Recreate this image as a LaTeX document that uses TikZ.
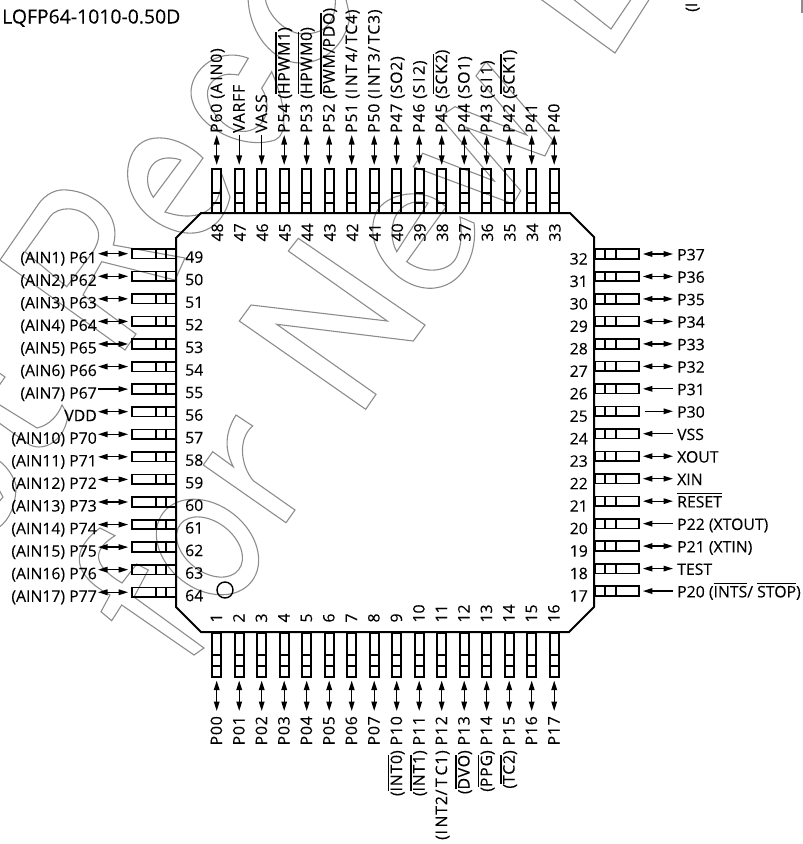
\documentclass[tikz,border=0pt]{standalone}
\usepackage{fontspec}
\setmainfont[FakeBold=0.2]{Open Sans}
\newfontfamily\vertfont[LetterSpace=5,FakeBold=0.2]{Open Sans}
\usetikzlibrary{arrows.meta}
\newcommand{\ovl}[1]{\leavevmode\setbox0\hbox{#1}\rlap{\raisebox{13pt}{\rule{\wd0}{1.4pt}}}\box0}
\begin{document}
\begin{tikzpicture}
[x=1pt,y=-1pt,
  >={Triangle[length=9.5pt,width=5.6pt]},
  wmark/.style={draw=black!45,line width=1.1pt,line join=miter},%
  bodyLine/.style={draw,line width=2pt,line join=miter},%
  crossLine/.style={draw,line width=1.3pt},%
  pinH/.style={shape=rectangle,draw,line width=1.7pt,inner sep=0pt,minimum width=44pt,minimum height=9.6pt},%
  pinV/.style={shape=rectangle,draw,line width=1.7pt,inner sep=0pt,minimum width=9pt,minimum height=44pt},%
  textH/.style={inner sep=0pt,font=\fontsize{15.8}{18}\selectfont},%
  textV/.style={inner sep=0pt,rotate=90,font=\fontsize{15.8}{18}\selectfont\vertfont},%
  numV/.style={inner sep=0pt,rotate=90,font=\fontsize{15.8}{18}\selectfont},%
  pinBoth/.style={<->,line width=1.3pt,shorten <=3pt},%
  pinIn/.style={<-,line width=1.3pt,shorten <=3pt},%
  pinOut/.style={->,line width=1.3pt,shorten <=5pt}]
\useasboundingbox (0,0) rectangle (803,844);
%% watermark letters
\draw[wmark] (0,260) -- (36.7,206.7) .. controls (46,192) and (58,189) .. (67,190)
  .. controls (95,192) and (122,215) .. (113.3,245) -- (185,258) -- (175,280) -- (101.7,261.7)
  -- (83,295) -- (136,334) -- (125,350) -- cycle;
\draw[wmark] (25,251.7) -- (50,216.7) .. controls (58,206) and (78,206) .. (90,218)
  .. controls (102,230) and (100,240) .. (93,251.7) -- (66.7,286.7) -- cycle;
\draw[wmark] (203,158) .. controls (180,135) and (145,130) .. (133,152)
  .. controls (118,180) and (135,217) .. (173,230) .. controls (195,238) and (222,232) .. (230,197)
  -- (221,172) .. controls (224,205) and (205,225) .. (165,212) -- cycle;
\draw[wmark] (181,160) -- (153.3,197.3) .. controls (140,178) and (150,150) .. (181,160);
\draw[wmark] (248.3,58.3) .. controls (215,45) and (185,75) .. (192,100)
  .. controls (200,130) and (245,150) .. (275,140) .. controls (287,135) and (288,110) .. (271.7,71.7)
  -- (261.7,88.3) .. controls (275,110) and (262,135) .. (238,131)
  .. controls (215,125) and (195,90) .. (217,78) .. controls (225,73) and (232,74) .. (238.3,75) -- cycle;
\draw[wmark] (248,-5) .. controls (248,35) and (275,63) .. (300,63) .. controls (325,63) and (345,45) .. (350,17) -- (345,-5);
\draw[wmark] (265,-5) .. controls (265,15) and (290,40) .. (313,33) .. controls (330,30) and (337,15) .. (335,-5);
\draw[wmark] (535,-5) -- (615,53) -- (652,-5);
\draw[wmark] (568,-5) -- (611,29) -- (634,-5);
\draw[wmark] (298.3,238.3) -- (425,325) -- (413.3,341) -- (276.7,324.3) -- (376,394.3)
  -- (365.7,409.3) -- (239.3,321) -- (251,305) -- (387.3,321) -- (288.3,251) -- cycle;
\draw[wmark] (476,76) -- (486,61.7) -- (552.7,140) -- (545,156) -- (466,127.3) -- (520.7,190.7)
  -- (513.3,204) -- (413.3,166.7) -- (422.7,153.3) -- (494.3,181) -- (440,116.7) -- (455,106.7)
  -- (526.7,135) -- cycle;
\draw[wmark] (446,207) -- (406.7,261.7) .. controls (425,275) and (450,272) .. (456.7,256.7)
  .. controls (462,245) and (462,230) .. (460,217) -- (474,223) .. controls (478,255) and (462,288) .. (430,288.3)
  .. controls (395,288) and (362,245) .. (376,213) .. controls (385,193) and (425,185) .. cycle;
\draw[wmark] (396.7,251.7) .. controls (385,230) and (395,195) .. (428,203) -- cycle;
\draw[wmark] (212.7,451.7) -- (233.3,466.7) .. controls (222,445) and (228,428) .. (236,415) -- (252.7,426)
  .. controls (238,438) and (240,465) .. (253.3,480.7) -- (295,510) -- (286,522.7) -- (203.3,465) -- cycle;
\draw[wmark,rotate around={-38:(207.5,547)}] (207.5,547) ellipse [x radius=56,y radius=42];
\draw[wmark,rotate around={-38:(209.5,547)}] (209.5,547) ellipse [x radius=37,y radius=25];
\draw[wmark] (204,648) -- (134,597) -- (148.3,570) -- (136.7,564) -- (122,583)
  .. controls (92,565) and (92,550) .. (115,535.7) -- (100,528) .. controls (70,550) and (72,575) .. (110,595)
  -- (101,611.7) -- (111.7,620.7) -- (121.7,605) -- (194,655) -- cycle;
\draw[wmark] (-5,402) -- (37,428) .. controls (50,425) and (58,415) .. (62,405) -- (68,415)
  .. controls (65,440) and (45,452) .. (30,445) -- (-5,420);
\draw[wmark] (-2,460) .. controls (10,468) and (18,485) .. (16,490) .. controls (15,505) and (10,520) .. (-2,528);
\draw[wmark] (-2,488) -- (3,497) -- (-2,503);
\draw[wmark] (-2,372) -- (5,377) -- (-2,387);
\draw[wmark] (802,-2) -- (802,13);
%% package body
\draw[bodyLine] (201,213) -- (570,213) -- (594,237) -- (594,607) -- (569,632) -- (201,632) -- (176,607) -- (176,238) -- cycle;
\node (mark) at (225,590) [shape=circle,draw,line width=1.4pt,inner sep=0pt,minimum size=16pt] {};
\node (title) at (2,23.5) [anchor=base west,inner sep=0pt,font=\fontsize{19.4}{22}\selectfont] {LQFP64-1010-0.50D};
\node (cut) at (697,12) [anchor=base west,inner sep=0pt,rotate=90,font=\fontsize{15.8}{18}\selectfont] {(I};
%% top pins
\foreach \pinno/\pinlabel/\pinkind [count=\i from 0] in {
  48/{P60 (A\,IN0)}/pinBoth, 47/{VARFF}/pinIn, 46/{VASS}/pinIn, 45/{P54 (\ovl{HPWM1})}/pinBoth,
  44/{P53 (\ovl{HPWM0})}/pinBoth, 43/{P52 (\ovl{PWM/} \ovl{PDO})}/pinBoth,
  42/{P51 (I\,NT\,4/\,TC4)}/pinBoth, 41/{P50 (I\,NT\,3/\,TC3)}/pinBoth, 40/{P47 (SO2)}/pinBoth,
  39/{P46 (S\,I\,2)}/pinBoth, 38/{P45 (\ovl{SCK2})}/pinBoth, 37/{P44 (SO1)}/pinBoth,
  36/{P43 (S\,I\,1)}/pinBoth, 35/{P42 (\ovl{SCK1})}/pinBoth, 34/{P41}/pinBoth, 33/{P40}/pinBoth}
{
  \node (pin\pinno) at (216.7+22.5*\i,190.75) [pinV] {};
  \draw[crossLine] (212.2+22.5*\i,193) -- +(9,0) (212.2+22.5*\i,203) -- +(9,0);
  \node (num\pinno) at (223+22.5*\i,241.7) [numV,anchor=base west] {\pinno};
  \node (lab\pinno) at (222+22.5*\i,133) [textV,anchor=base west] {\pinlabel};
  \coordinate (tip\pinno) at (216.7+22.5*\i,135);
  \draw[\pinkind] (pin\pinno.north) -- (tip\pinno);
}
%% left pins
\foreach \pinno/\pinlabel/\pinkind [count=\i from 0] in {
  49/{(AIN1) P61}/pinBoth, 50/{(AIN2) P62}/pinBoth, 51/{(AIN3) P63}/pinBoth, 52/{(AIN4) P64}/pinBoth,
  53/{(AIN5) P65}/pinBoth, 54/{(AIN6) P66}/pinBoth, 55/{(AIN7) P67}/pinIn, 56/{VDD}/pinBoth,
  57/{(AIN10) P70}/pinBoth, 58/{(AIN11) P71}/pinBoth, 59/{(AIN12) P72}/pinBoth, 60/{(AIN13) P73}/pinBoth,
  61/{(AIN14) P74}/pinBoth, 62/{(AIN15) P75}/pinBoth, 63/{(AIN16) P76}/pinBoth, 64/{(AIN17) P77}/pinBoth}
{
  \node (pin\pinno) at (154,253.7+22.57*\i) [pinH] {};
  \draw[crossLine] (156,248.9+22.57*\i) -- +(0,9.6) (166,248.9+22.57*\i) -- +(0,9.6);
  \node (num\pinno) at (185,262.7+22.57*\i) [textH,anchor=base west] {\pinno};
  \node (lab\pinno) at (97,263.2+22.57*\i) [textH,anchor=base east] {\pinlabel};
  \coordinate (tip\pinno) at (98,253.7+22.57*\i);
  \draw[\pinkind] (pin\pinno.west) -- (tip\pinno);
}
%% right pins
\foreach \pinno/\pinlabel/\pinkind [count=\i from 0] in {
  32/{P37}/pinBoth, 31/{P36}/pinBoth, 30/{P35}/pinBoth, 29/{P34}/pinBoth,
  28/{P33}/pinBoth, 27/{P32}/pinBoth, 26/{P31}/pinIn, 25/{P30}/pinOut,
  24/{VSS}/pinIn, 23/{XOUT}/pinBoth, 22/{XIN}/pinBoth, 21/{\ovl{RESET}}/pinBoth,
  20/{P22 (XTOUT)}/pinIn, 19/{P21 (XTIN)}/pinBoth, 18/{TEST}/pinBoth, 17/{P20 (\ovl{INTS} / \ovl{STOP})}/pinIn}
{
  \node (pin\pinno) at (617,254+22.47*\i) [pinH] {};
  \draw[crossLine] (605,249.2+22.47*\i) -- +(0,9.6) (616,249.2+22.47*\i) -- +(0,9.6);
  \node (num\pinno) at (588,264.5+22.47*\i) [textH,anchor=base east] {\pinno};
  \node (lab\pinno) at (677,260.3+22.47*\i) [textH,anchor=base west] {\pinlabel};
  \coordinate (tip\pinno) at (673,254+22.47*\i);
  \draw[\pinkind] (pin\pinno.east) -- (tip\pinno);
}
%% bottom pins
\foreach \pinno/\pinlabel [count=\i from 0] in {
  1/{P00}, 2/{P01}, 3/{P02}, 4/{P03}, 5/{P04}, 6/{P05}, 7/{P06}, 8/{P07},
  9/{(\ovl{INT0}) P10}, 10/{(\ovl{INT1}) P11}, 11/{(I\,NT2/\,T\,C1) P12}, 12/{(\ovl{DVO}) P13},
  13/{(\ovl{PPG}) P14}, 14/{(\ovl{TC2}) P15}, 15/{P16}, 16/{P17}}
{
  \node (pin\pinno) at (216.7+22.5*\i,654.75) [pinV] {};
  \draw[crossLine] (212.2+22.5*\i,655) -- +(9,0) (212.2+22.5*\i,666) -- +(9,0);
  \node (num\pinno) at (222+22.5*\i,622.7) [numV,anchor=base west] {\pinno};
  \node (lab\pinno) at (222+22.5*\i,716) [textV,anchor=base east] {\pinlabel};
  \coordinate (tip\pinno) at (216.7+22.5*\i,711);
  \draw[pinBoth] (pin\pinno.south) -- (tip\pinno);
}
\end{tikzpicture}
\end{document}
